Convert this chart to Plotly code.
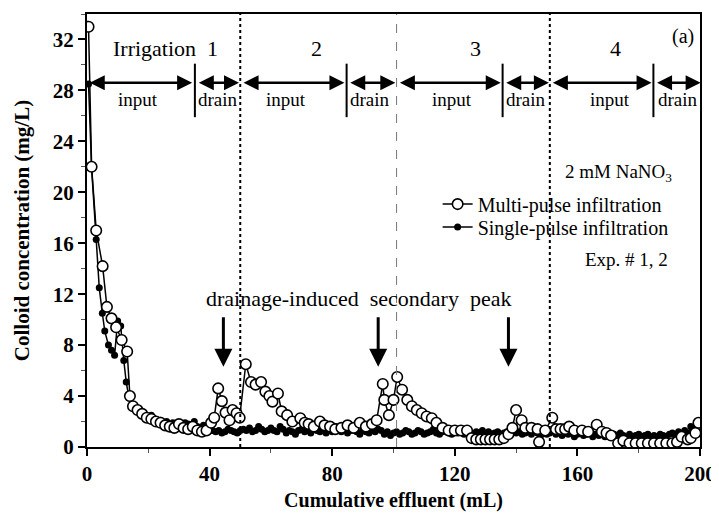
import plotly.graph_objects as go

# ---------------- data ----------------
multi_x = [0.5, 1.5, 3, 5.1, 6.5, 8, 9.5, 11.3, 13.1, 14, 15, 16.5, 18, 19.5, 21, 22.5, 24, 25.5,
           27, 28.5, 30, 31.5, 33, 34.5, 36, 37.5, 39, 40.5, 41.5, 42.8, 44, 45.2, 46.5, 47.5,
           48.8, 49.8, 51.8, 53.5, 55, 56.8, 58.2, 59.5, 60.5, 62.3, 63.5, 65.3, 67, 69.6, 71,
           72.3, 74, 76, 77.5, 79.3, 81, 83, 85, 87, 89, 91, 93, 94.5, 96.5, 97, 98.5, 100,
           101.2, 102.8, 104.5, 106, 107.6, 109.2, 110.8, 112.5, 114, 116, 118, 120, 122, 124,
           125.5, 127, 128.5, 130, 131.5, 133, 134.5, 136, 137.5, 138.8, 140, 141.8, 143, 145,
           147, 147.5, 149.5, 151.8, 153, 154.5, 156, 157.3, 159, 161.5, 163.5, 166.3, 168,
           169.5, 171, 173.3, 175, 177, 179, 181, 183, 185, 187, 189, 191, 192.5, 194, 196,
           197, 198.5, 199.5]
multi_y = [33, 22, 17, 14.2, 11.0, 10.1, 9.4, 8.4, 7.5, 4.0, 3.2, 2.9, 2.6, 2.3, 2.2, 2.0, 1.9, 1.7,
           1.6, 1.5, 1.8, 1.5, 1.4, 1.6, 1.3, 1.2, 1.3, 1.9, 2.3, 4.6, 3.6, 2.7, 2.1, 2.9,
           2.65, 2.3, 6.5, 5.1, 4.9, 5.1, 4.35, 4.0, 3.56, 4.2, 2.8, 2.5, 2.0, 2.26, 1.9,
           1.8, 1.6, 2.0, 1.7, 1.6, 1.4, 1.5, 1.7, 1.5, 1.9, 1.6, 1.8, 2.1, 4.95, 3.7, 2.5, 3.7,
           5.5, 4.5, 3.7, 3.2, 2.9, 2.65, 2.4, 2.26, 1.9, 1.5, 1.3, 1.3, 1.3, 1.3,
           0.7, 0.6, 0.6, 0.6, 0.6, 0.6, 0.6, 0.7, 1.0, 1.5, 2.9, 2.1, 1.5, 1.5,
           1.4, 0.4, 1.3, 2.3, 1.4, 1.4, 1.4, 1.6, 1.3, 1.3, 1.2, 1.75, 1.2,
           1.1, 0.9, 0.3, 0.5, 0.3, 0.3, 0.3, 0.3, 0.3, 0.3, 0.3, 0.3, 0.4, 0.8, 0.6,
           0.7, 1.1, 1.9]

single_x = [0.5, 1.5, 3, 4, 5, 5.8, 7, 8, 9, 10, 11, 12, 12.8, 13.7] + list(range(15, 200))
single_y = [28.5, 21.9, 16.3, 12.5, 10.5, 9.1, 8.0, 7.6, 7.2, 9.9, 9.5, 6.8, 5.1, 3.85,
            # 15-40
            3.3, 3.0, 2.8, 2.6, 2.4, 2.3, 2.5, 2.2, 2.0, 2.1, 1.8, 2.0, 1.7, 1.9, 1.6, 1.7,
            1.5, 1.9, 1.8, 1.6, 2.0, 1.6, 1.5, 1.7, 1.4, 1.3,
            # 41-100
            1.3, 1.2, 1.3, 1.1, 1.2, 1.4, 1.3, 1.2, 1.1, 1.3,
            1.4, 1.3, 1.5, 1.2, 1.3, 1.6, 1.4, 1.2, 1.3, 1.5,
            1.3, 1.2, 1.6, 1.4, 1.1, 1.3, 1.2, 1.0, 1.3, 1.4,
            1.2, 1.3, 1.1, 1.5, 1.3, 1.2, 1.4, 1.1, 1.3, 1.2,
            1.6, 1.3, 1.2, 1.4, 1.1, 1.3, 1.5, 1.2, 1.0, 1.3,
            1.2, 1.1, 1.3, 1.2, 1.4, 1.3, 1.0, 1.2, 0.9, 1.1,
            # 101-150
            1.2, 1.0, 1.1, 1.3, 1.2, 1.0, 1.1, 1.3, 1.2, 1.0,
            1.1, 1.2, 1.4, 1.1, 1.0, 1.2, 1.3, 1.1, 1.0, 1.2,
            1.1, 1.3, 1.0, 1.2, 1.1, 1.0, 1.2, 1.1, 1.3, 1.0,
            1.2, 1.0, 1.1, 1.2, 0.9, 1.1, 1.2, 1.0, 1.3, 1.1,
            1.2, 1.0, 1.1, 1.3, 1.0, 1.2, 1.1, 0.9, 1.2, 1.0,
            # 151-199
            1.1, 1.3, 1.0, 1.2, 0.9, 1.1, 1.0, 1.2, 0.8, 1.0,
            1.1, 0.9, 1.0, 1.2, 0.8, 1.0, 0.9, 1.1, 0.8, 1.0,
            0.9, 1.0, 0.8, 1.1, 0.9, 0.7, 1.0, 0.8, 0.9, 1.0,
            0.8, 0.9, 1.0, 0.7, 0.9, 0.8, 1.0, 0.9, 0.8, 1.0,
            1.1, 0.9, 1.2, 1.0, 1.3, 1.1, 1.6, 1.4, 1.9]

x_ticks = [0, 40, 80, 120, 160, 200]
y_ticks = [0, 4, 8, 12, 16, 20, 24, 28, 32]

irrigation_labels = ["Irrigation", "1", "2", "3", "4"]
phase_labels = ["input", "drain"]

SERIF = "Liberation Serif, Times New Roman, serif"

fig = go.Figure()

fig.add_trace(go.Scatter(
    x=single_x, y=single_y, mode="lines+markers", name="Single-pulse infiltration",
    line=dict(color="black", width=1.5),
    marker=dict(symbol="circle", size=7, color="black"),
    legend="legend2",
))
fig.add_trace(go.Scatter(
    x=multi_x, y=multi_y, mode="lines+markers", name="Multi-pulse infiltration",
    line=dict(color="black", width=1.5),
    marker=dict(symbol="circle", size=10.5, color="white", line=dict(color="black", width=1.6)),
    legend="legend",
))

# ---------------- decorations ----------------
shapes = []
for xv, dash, col, w in [(50, "dot", "black", 2), (101, "dash", "#777777", 1), (151, "dot", "black", 2)]:
    shapes.append(dict(type="line", xref="x", yref="paper", x0=xv, x1=xv, y0=0, y1=1,
                       line=dict(color=col, width=w, dash=dash)))
for xv in [35.2, 84.7, 135.6, 184.8]:
    shapes.append(dict(type="line", xref="x", yref="y", x0=xv, x1=xv, y0=25.9, y1=30.1,
                       line=dict(color="black", width=2)))

annotations = []
arrow_y = 28.6
segments = [(0.4, 34.3), (36.0, 49.6), (50.6, 84.0), (85.4, 100.6),
            (101.6, 135.0), (136.3, 150.7), (151.5, 184.2), (185.5, 200.2)]
for a, b in segments:
    annotations.append(dict(x=b, y=arrow_y, ax=a, ay=arrow_y, xref="x", yref="y",
                            axref="x", ayref="y", text="", showarrow=True,
                            arrowhead=2, startarrowhead=2, arrowside="end+start",
                            arrowsize=1.2, startarrowsize=1.2, arrowwidth=2.5,
                            arrowcolor="black", standoff=0, startstandoff=0))

def txt(x, y, s, size=18, xanchor="center", bold=False):
    annotations.append(dict(x=x, y=y, xref="x", yref="y", text=s, showarrow=False,
                            xanchor=xanchor, yanchor="middle",
                            font=dict(family=SERIF, size=size, color="black",
                                      weight="bold" if bold else "normal")))

txt(22, 31.3, irrigation_labels[0], size=22)
txt(41, 31.3, irrigation_labels[1], size=22)
txt(75, 31.3, irrigation_labels[2], size=22)
txt(126.6, 31.3, irrigation_labels[3], size=22)
txt(172.3, 31.3, irrigation_labels[4], size=22)
for xc in [16.7, 65, 119, 170.6]:
    txt(xc, 27.3, phase_labels[0], size=19)
for xc in [42.6, 92.2, 143.2, 192.8]:
    txt(xc, 27.3, phase_labels[1], size=19)
txt(194.5, 32.2, "(a)", size=20)
txt(173.5, 21.5, "2 mM NaNO<sub>3</sub>", size=19)
txt(176, 14.7, "Exp. # 1, 2", size=19)
txt(88.5, 11.7, "drainage-induced  secondary  peak", size=22)

for xv in [44.5, 95, 137.5]:
    annotations.append(dict(x=xv, y=6.3, ax=xv, ay=10.3, xref="x", yref="y",
                            axref="x", ayref="y", text="", showarrow=True,
                            arrowhead=2, arrowsize=1.2, arrowwidth=3, arrowcolor="black",
                            standoff=0))

legend_style = dict(xanchor="left", yanchor="middle", bgcolor="rgba(0,0,0,0)", borderwidth=0,
                    font=dict(family=SERIF, size=20, color="black"), itemwidth=30)

# page body has an 8px margin: figure is sized/placed to compensate
fig.update_layout(
    width=711, height=520,
    margin=dict(l=79, r=19, t=6, b=81, autoexpand=False),
    paper_bgcolor="white", plot_bgcolor="white",
    shapes=shapes, annotations=annotations,
    showlegend=True,
    legend=dict(x=0.572, y=0.561, **legend_style),
    legend2=dict(x=0.572, y=0.508, **legend_style),
    font=dict(family=SERIF, color="black"),
)

fig.update_xaxes(
    range=[0, 200], tickvals=x_ticks, ticktext=[str(v) for v in x_ticks],
    showline=True, linecolor="black", linewidth=2, mirror=True,
    ticks="outside", ticklen=7, tickwidth=1.5, tickcolor="black",
    minor=dict(dtick=20, ticks="outside", ticklen=4, tickwidth=1, tickcolor="#555555"),
    showgrid=False, zeroline=False, automargin=False,
    tickfont=dict(family=SERIF, size=21, color="black", weight="bold"),
    title=dict(text="Cumulative effluent (mL)", standoff=8,
               font=dict(family=SERIF, size=20, color="black", weight="bold")),
)
fig.update_yaxes(
    range=[0, 34], tickvals=y_ticks, ticktext=[str(v) for v in y_ticks],
    showline=True, linecolor="black", linewidth=2, mirror=True,
    ticks="outside", ticklen=7, tickwidth=1.5, tickcolor="black",
    minor=dict(dtick=2, ticks="outside", ticklen=4, tickwidth=1, tickcolor="#555555"),
    showgrid=False, zeroline=False, automargin=False,
    tickfont=dict(family=SERIF, size=21, color="black", weight="bold"),
    title=dict(text="Colloid concentration (mg/L)", standoff=17,
               font=dict(family=SERIF, size=21, color="black", weight="bold")),
)

fig.write_html("out.html")
